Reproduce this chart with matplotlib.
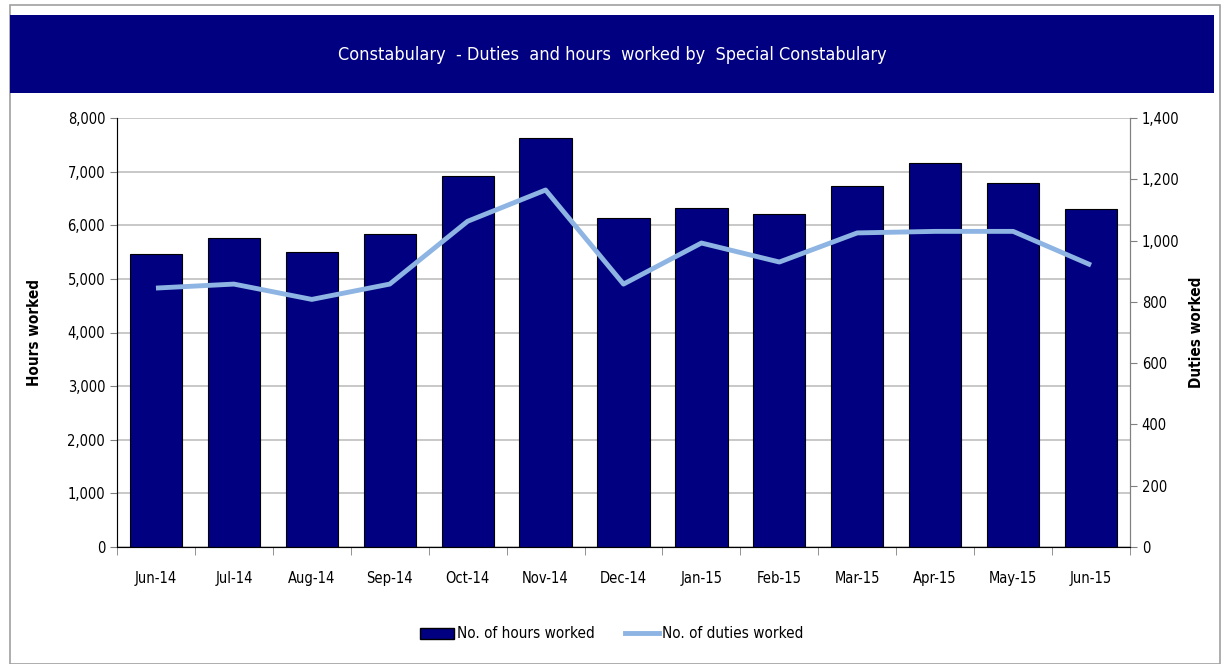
import matplotlib.pyplot as plt
from matplotlib.patches import Rectangle
from matplotlib.ticker import FuncFormatter, MultipleLocator
from matplotlib.lines import Line2D
from matplotlib.patches import Patch

months = ['Jun-14', 'Jul-14', 'Aug-14', 'Sep-14', 'Oct-14', 'Nov-14', 'Dec-14',
          'Jan-15', 'Feb-15', 'Mar-15', 'Apr-15', 'May-15', 'Jun-15']
hours = [5460, 5760, 5500, 5840, 6920, 7630, 6130, 6320, 6210, 6730, 7160, 6790, 6300]
duties = [845, 858, 808, 858, 1063, 1165, 858, 992, 930, 1025, 1030, 1030, 920]

NAVY = '#000080'
LINE = '#8DB4E2'
GRID = '#BFBFBF'

plt.rcParams['font.family'] = ['DejaVu Sans']
plt.rcParams['font.stretch'] = 'condensed'

fig = plt.figure(figsize=(12.24, 6.64), dpi=100)
W, H = 1224, 664

# outer frame and title banner
fig.patches.append(Rectangle((10 / W, 0), 1210 / W, 659 / H, transform=fig.transFigure,
                             fill=False, edgecolor='#A0A0A0', lw=1.2))
fig.patches.append(Rectangle((10 / W, 1 - 93 / H), 1204 / W, 78 / H, transform=fig.transFigure,
                             facecolor=NAVY, edgecolor='none'))
fig.text(612 / W, 1 - 55 / H, 'Constabulary  - Duties  and hours  worked by  Special Constabulary',
         color='white', ha='center', va='center', fontsize=13, fontstretch='condensed')

ax = fig.add_axes([117 / W, 1 - 547 / H, 1013 / W, 429 / H])
x = list(range(len(months)))
ax.bar(x, hours, width=0.67, color=NAVY, edgecolor='black', linewidth=0.8, zorder=3)
ax.set_xlim(-0.5, len(months) - 0.5)
ax.set_ylim(0, 8000)
ax.yaxis.set_major_locator(MultipleLocator(1000))
ax.yaxis.set_major_formatter(FuncFormatter(lambda v, p: f'{int(v):,}'))
ax.grid(axis='y', color=GRID, lw=1.2, zorder=0)
ax.set_xticks(x)
ax.set_xticklabels(months)
ax.set_xticks([i - 0.5 for i in range(len(months) + 1)], minor=True)
ax.tick_params(axis='x', which='major', length=0, pad=17, labelsize=10.5)
ax.tick_params(axis='x', which='minor', length=6, color='#808080')
ax.tick_params(axis='y', length=5, color='#808080', labelsize=10.5)
ax.spines['top'].set_visible(False)
for s in ['left', 'bottom', 'right']:
    ax.spines[s].set_color('#808080')
ax.set_ylabel('Hours worked', fontweight='bold', fontsize=11, labelpad=18)

ax2 = ax.twinx()
ax2.plot(x, duties, color=LINE, lw=3.5, zorder=4, solid_capstyle='butt')
ax2.set_ylim(0, 1400)
ax2.yaxis.set_major_locator(MultipleLocator(200))
ax2.yaxis.set_major_formatter(FuncFormatter(lambda v, p: f'{int(v):,}'))
ax2.tick_params(axis='y', length=5, color='#808080', labelsize=10.5)
ax2.spines['top'].set_visible(False)
ax2.spines['right'].set_color('#808080')
ax2.set_ylabel('Duties worked', fontweight='bold', fontsize=11, labelpad=7,
               rotation=90)

handles = [Patch(facecolor=NAVY, edgecolor='black', label='No. of hours worked'),
           Line2D([0], [0], color=LINE, lw=3.5, label='No. of duties worked')]
fig.legend(handles=handles, loc='center', bbox_to_anchor=(612 / W, 1 - 634 / H), ncol=2,
           frameon=False, fontsize=11, handlelength=2.2, columnspacing=2.0, handletextpad=0.2)

fig.savefig('out.png', dpi=100)
